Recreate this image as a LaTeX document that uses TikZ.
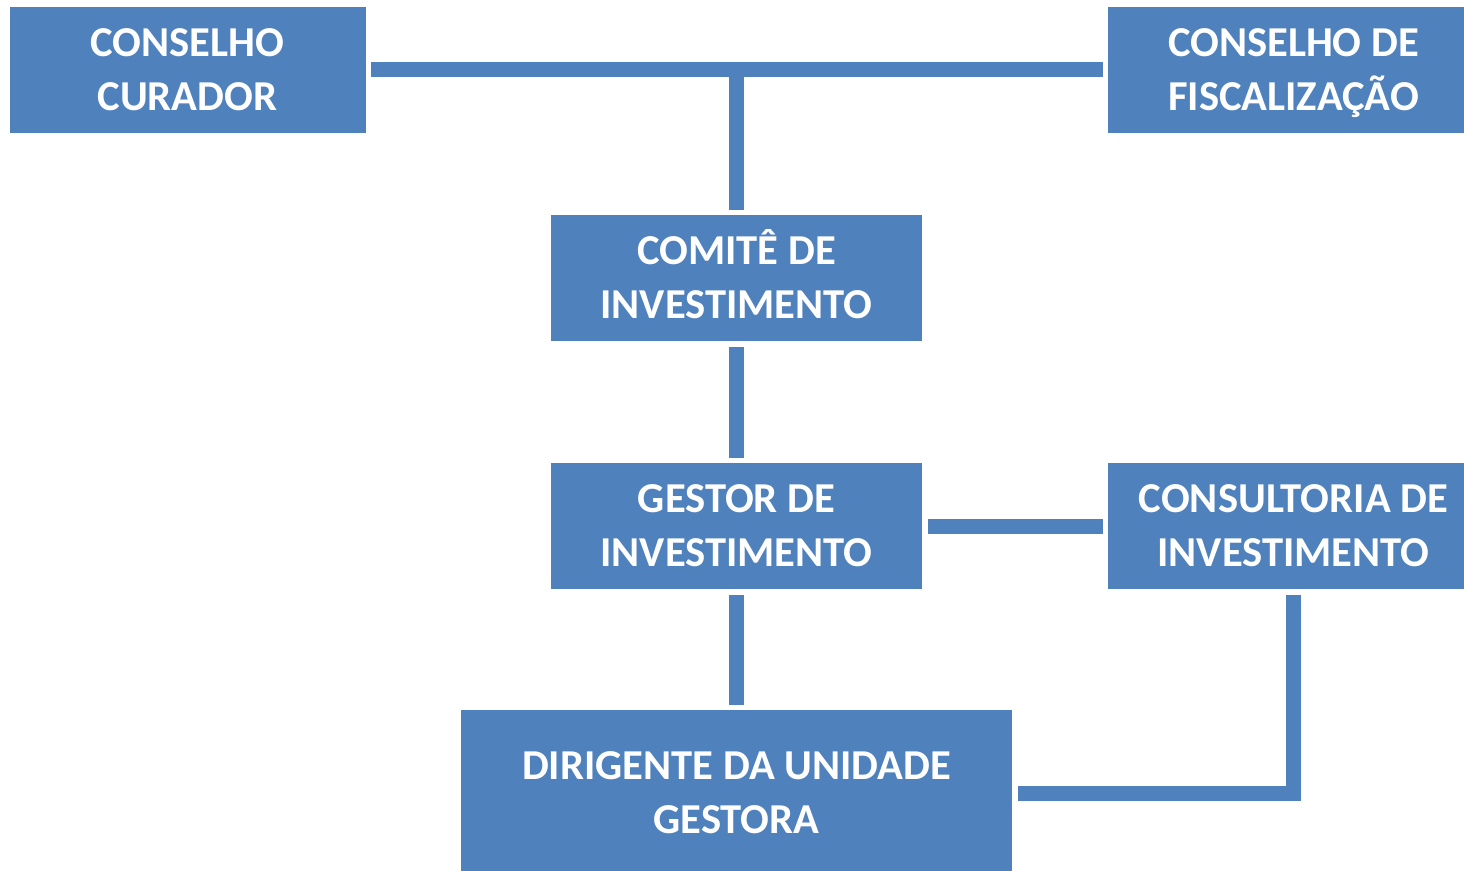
\documentclass[tikz,border=0pt]{standalone}
\usepackage{fontspec}
\setmainfont{Carlito}
\definecolor{boxblue}{HTML}{4F81BD}
\newcommand\capl[1]{\vphantom{X}\smash{#1}}
\begin{document}
\begin{tikzpicture}[x=1pt,y=-1pt,
  orgbox/.style={rectangle, fill=boxblue, draw=none, text=white, align=center,
    font=\fontsize{42.6}{54}\selectfont\bfseries, inner sep=0pt, outer sep=5.5pt,
    minimum height=126pt},
  link/.style={draw=boxblue, line width=15pt, line cap=butt, line join=miter}]
\useasboundingbox (0,0) rectangle (1464,870);
\node[orgbox, minimum width=356pt] (cc) at (187.5,69.5) {\capl{CONSELHO}\\\capl{CURADOR}};
\node[orgbox, minimum width=371pt] (cf) at (1293.5,69.5) {\capl{CONSELHO DE}\\\capl{FISCALIZAÇÃO}};
\node[orgbox, minimum width=371pt] (ci) at (736.5,278) {\capl{COMITÊ DE}\\\capl{INVESTIMENTO}};
\node[orgbox, minimum width=371pt] (gi) at (736.5,526) {\capl{GESTOR DE}\\\capl{INVESTIMENTO}};
\node[orgbox, minimum width=371pt] (cn) at (1293.5,526) {\capl{CONSULTORIA DE}\\\capl{INVESTIMENTO}};
\node[orgbox, minimum width=551pt, minimum height=166pt] (dg) at (736.5,793) {\capl{DIRIGENTE DA UNIDADE}\\\capl{GESTORA}};
\draw[link] (cc.east) -- (cf.west);
\draw[link] (ci.north) -- (ci.north |- cc.east);
\draw[link] (ci.south) -- (gi.north);
\draw[link] (gi.east) -- (cn.west);
\draw[link] (gi.south) -- (dg.north);
\draw[link] (cn.south) |- (dg.east);
\end{tikzpicture}
\end{document}
